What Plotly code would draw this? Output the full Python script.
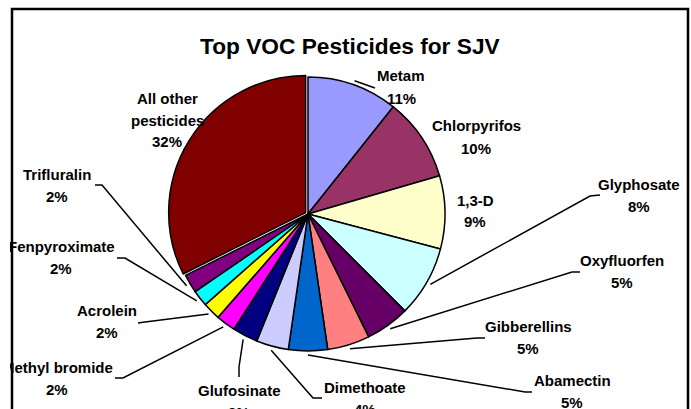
import math
import plotly.graph_objects as go

# ---------------- data ----------------
categories = ["Metam", "Chlorpyrifos", "1,3-D", "Glyphosate", "Oxyfluorfen",
              "Gibberellins", "Abamectin", "Dimethoate", "Glufosinate",
              "Methyl bromide", "Acrolein", "Fenpyroximate", "Trifluralin",
              "All other\npesticides"]
shares = [10.7, 9.8, 8.6, 8.4, 5.2, 5.0, 4.6, 3.8, 3.0, 2.3, 2.1, 1.9, 2.2, 32.4]
title_text = "Top VOC Pesticides for SJV"

# ---------------- styles / layout ----------------
colors = ["#9999FF", "#993366", "#FFFFCC", "#CCFFFF", "#660066", "#FF8080",
          "#0066CC", "#CCCCFF", "#000080", "#FF00FF", "#FFFF00", "#00FFFF",
          "#800080", "#800000"]
pulls = [0] * 13 + [0.02]

W, H = 691, 409
PIE_CX, PIE_CY, PIE_R = 308, 214, 137
FONT = "Liberation Sans, Arial, sans-serif"
LINE_GAP = 22
FRAME_L, FRAME_T, FRAME_R = 12, 9, 688

# label block positions (center x, first line center y) in pixels
label_pos = [(401, 76), (476, 126), (475, 200), (639, 184), (622, 260),
             (528, 326), (572, 380), (365, 387), (239, 390), (57, 367),
             (107, 310), (61, 246), (57, 174), (167, 98)]
# leader elbows (from label side toward pie), pixels
leaders = [[(375, 88)], None, None, [(600, 195), (590, 196)],
           [(580, 272), (572, 272)], [(485, 338), (477, 338)],
           [(532, 392), (525, 392)], [(322, 398), (313, 398)],
           [(239, 377), (239, 367)], [(115, 378), (123, 378)],
           [(138, 323), (145, 322)], [(117, 258), (125, 258)],
           [(95, 185), (102, 185)], None]


def px(x):
    return x / W


def py(y):
    return 1 - y / H


maxpull = max(pulls)
half = PIE_R * (1 + maxpull)

fig = go.Figure()
fig.add_trace(go.Pie(
    labels=[c.replace("\n", " ") for c in categories],
    values=shares,
    sort=False,
    direction="clockwise",
    rotation=0,
    pull=pulls,
    textinfo="none",
    hoverinfo="label+percent",
    marker=dict(colors=colors, line=dict(color="black", width=1.5)),
    domain=dict(x=[px(PIE_CX - half), px(PIE_CX + half)],
                y=[py(PIE_CY + half), py(PIE_CY - half)]),
    showlegend=False,
))

total = sum(shares)
annotations = []
shapes = []
cum = 0.0
for i, (name, v) in enumerate(zip(categories, shares)):
    mid = (cum + v / 2) / total * 2 * math.pi
    cum += v
    lines = name.split("\n") + [f"{v / total * 100:.0f}%"]
    lx, ly = label_pos[i]
    for k, t in enumerate(lines):
        annotations.append(dict(
            x=px(lx), y=py(ly + k * LINE_GAP), xref="paper", yref="paper",
            text=t, showarrow=False, xanchor="center", yanchor="middle",
            font=dict(family=FONT, size=15, color="black", weight="bold")))
    if leaders[i]:
        r_end = PIE_R * 1.03
        ex = PIE_CX + r_end * math.sin(mid)
        ey = PIE_CY - r_end * math.cos(mid)
        pts = leaders[i] + [(ex, ey)]
        path = "M " + " L ".join(f"{px(a):.5f},{py(b):.5f}" for a, b in pts)
        shapes.append(dict(type="path", path=path, xref="paper", yref="paper",
                           line=dict(color="black", width=1.5)))

annotations.append(dict(
    x=px(350), y=py(46), xref="paper", yref="paper", text=title_text,
    showarrow=False, xanchor="center", yanchor="middle",
    font=dict(family=FONT, size=22.7, color="black", weight="bold")))

# white strip outside the chart frame (text there is clipped, as in the original)
annotations.append(dict(
    x=0, y=1, xref="paper", yref="paper", text=" ", showarrow=False,
    xanchor="left", yanchor="top", width=FRAME_L - 2, height=H + 10,
    bgcolor="white", borderpad=0, borderwidth=0))

shapes.append(dict(type="rect", xref="paper", yref="paper",
                   x0=px(FRAME_L), x1=px(FRAME_R), y0=py(430), y1=py(FRAME_T),
                   line=dict(color="black", width=2.5)))

fig.update_layout(
    width=W, height=H,
    margin=dict(l=0, r=0, t=0, b=0),
    paper_bgcolor="white", plot_bgcolor="white",
    annotations=annotations, shapes=shapes,
)

fig.write_html(
    "out.html",
    config={"displayModeBar": False},
    post_script="document.body.style.margin='0px';"
                "document.body.style.overflow='hidden';",
)
